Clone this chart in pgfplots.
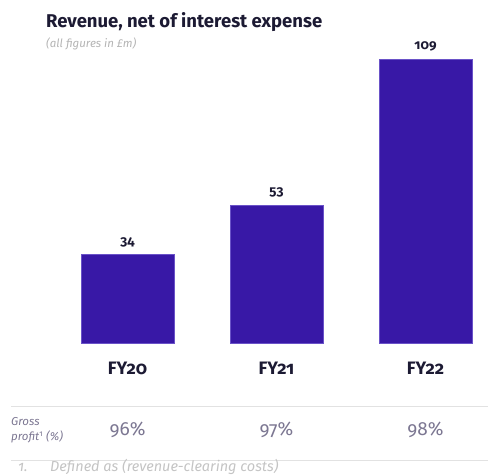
\documentclass[border=0pt]{standalone}
\usepackage{pgfplots}
\pgfplotsset{compat=1.18}
\usepackage{fontspec}
\setmainfont{Fira Sans}[Numbers=OldStyle]
\definecolor{barpurple}{HTML}{3818A6}
\definecolor{baredge}{HTML}{6A52C8}
\definecolor{ink}{HTML}{1C1A33}
\definecolor{subgrey}{HTML}{B4B4B4}
\definecolor{rowgrey}{HTML}{7C7792}
\definecolor{rulegrey}{HTML}{E2E2E2}
\definecolor{notegrey}{HTML}{C4C4C4}
\begin{document}
\begin{tikzpicture}[x=1pt,y=1pt]
\path[use as bounding box] (0,0) rectangle (488,475);
% heading
\node[anchor=base west, inner sep=0, text=ink, font=\fontsize{18.5}{21}\selectfont\bfseries] at (46,447) {Revenue, net of interest expense};
\node[anchor=base west, inner sep=0, text=subgrey, font=\fontsize{11.5}{13}\selectfont\itshape] at (46,427) {(all figures in £m)};
\begin{axis}[
    at={(53pt,131.7pt)}, anchor=south west,
    scale only axis,
    width=432.1pt, height=312.7pt,
    xmin=-0.5, xmax=2.4,
    ymin=0, ymax=120,
    axis lines=none,
    clip=false,
    ybar, bar width=92.7pt,
    xtick=data,
    xticklabels={},
    /pgf/number format/assume math mode=true,
    nodes near coords,
    every node near coord/.append style={
        font=\fontsize{13.5}{15}\selectfont\bfseries, text=ink, yshift=4pt},
]
    \addplot[fill=barpurple, draw=baredge, line width=0.6pt] coordinates {
        (0,34)
        (1,53)
        (2,109)
    };
    % category names under the bars
    \foreach \i/\lab in {0/FY20,1/FY21,2/FY22} {
        \edef\tmp{\noexpand\node[text=ink, font=\noexpand\fontsize{18}{20}\noexpand\selectfont\noexpand\bfseries] at (axis cs:\i,0) [yshift=-25pt] {\lab};}
        \tmp
    }
    % gross profit row
    \foreach \i/\lab in {0/96\%,1/97\%,2/98\%} {
        \edef\tmp{\noexpand\node[text=rowgrey, font=\noexpand\fontsize{19}{21}\noexpand\selectfont] at (axis cs:\i,0) [yshift=-87pt] {\lab};}
        \tmp
    }
\end{axis}
\draw[rulegrey, line width=1pt] (11,68.3) -- (488,68.3);
\draw[rulegrey, line width=1pt] (11,14.3) -- (488,14.3);
\node[anchor=base west, inner sep=0, text=rowgrey, font=\fontsize{11.5}{13}\selectfont\itshape] at (11,49.5) {Gross};
\node[anchor=base west, inner sep=0, text=rowgrey, font=\fontsize{11.5}{13}\selectfont\itshape] at (11,34.5) {profit\textsuperscript{\upshape 1} (\%)};
\node[anchor=base west, inner sep=0, text=notegrey, font=\fontsize{14.5}{16}\selectfont\itshape] at (18,4) {1.};
\node[anchor=base west, inner sep=0, text=notegrey, font=\fontsize{14.5}{16}\selectfont\itshape] at (50,4) {Defined as (revenue-clearing costs)};
\end{tikzpicture}
\end{document}
